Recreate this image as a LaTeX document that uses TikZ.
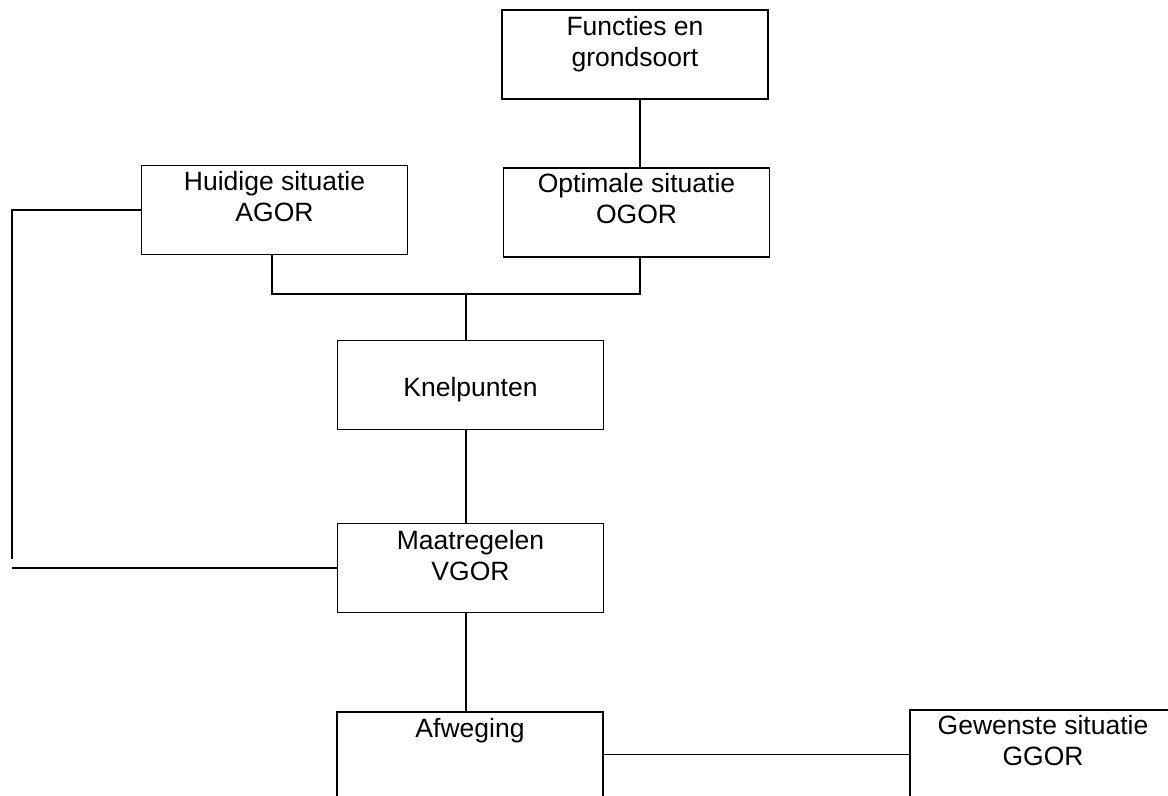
\documentclass[tikz,border=0pt]{standalone}
\usepackage{fontspec}
\setmainfont{Liberation Sans}
\usetikzlibrary{positioning}

\begin{document}
\begin{tikzpicture}[x=0.5pt,y=-0.5pt,line width=0.9pt,
  box/.style={draw,minimum width=133pt,minimum height=44.5pt,inner sep=0pt},
  boxtext/.style={anchor=base,align=center,inner sep=0pt,font=\fontsize{13.25}{15.5}\selectfont}]
\useasboundingbox (0,0) rectangle (1168,796);
\clip (0,0) rectangle (1168,796);

\node[box] (funct) at (635,54.5) {};
\node[box] (huidig) at (274.5,210) {};
\node[box] (opt) at (636.5,212.5) {};
\node[box] (knel) at (470.5,385) {};
\node[box] (maat) at (470.5,568) {};
\node[box] (afw) at (470,756.5) {};
\node[box] (gew) at (1043,754.5) {};

% base anchor sits on the last line
\node[boxtext] (funct-t) at ([yshift=-28.5pt]funct.north) {Functies en\\grondsoort};
\node[boxtext] (huidig-t) at ([yshift=-28.5pt]huidig.north) {Huidige situatie\\AGOR};
\node[boxtext] (opt-t) at ([yshift=-28pt]opt.north) {Optimale situatie\\OGOR};
\node[boxtext] (knel-t) at ([yshift=-6pt]knel.center) {Knelpunten};
\node[boxtext] (maat-t) at ([yshift=-29pt]maat.north) {Maatregelen\\VGOR};
\node[boxtext] (afw-t) at ([yshift=-13pt]afw.north) {Afweging};
\node[boxtext] (gew-t) at ([yshift=-28pt]gew.north) {Gewenste situatie\\GGOR};

\coordinate (split) at (466,294);
\coordinate (bend) at (12,559);
\coordinate (leftend) at (12,568);

\draw ([xshift=2.5pt]funct.south) -- ([xshift=1.75pt]opt.north);
\draw ([xshift=-1.25pt]huidig.south) |- (split) -| ([xshift=1.75pt]opt.south);
\draw (split) -- (split |- knel.north);
\draw ([xshift=-2.25pt]knel.south) -- ([xshift=-2.25pt]maat.north);
\draw (huidig.west) -| (bend);
\draw (maat.west) -- (leftend);
\draw ([xshift=-2.25pt]maat.south) -- ([xshift=-2pt]afw.north);
\draw (afw.east |- gew.west) -- (gew.west);

\end{tikzpicture}
\end{document}
